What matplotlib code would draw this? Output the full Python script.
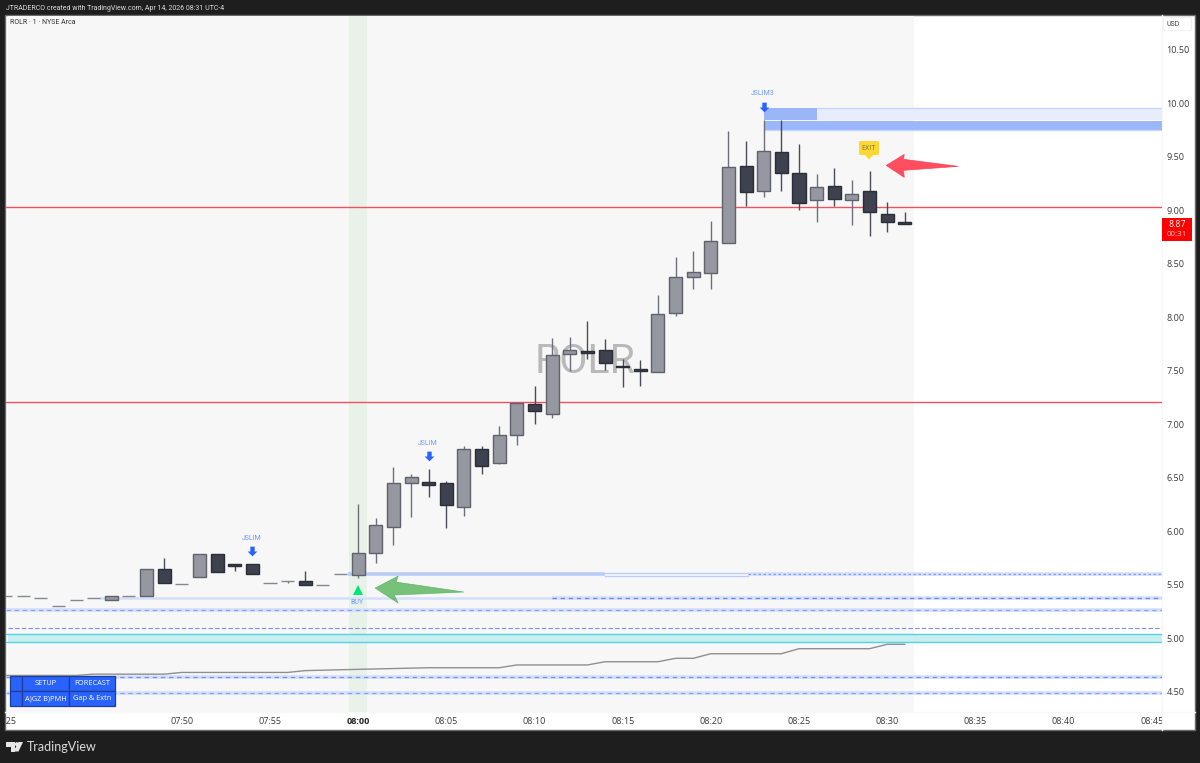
#!/usr/bin/env python3

import matplotlib
matplotlib.use('Agg')
import matplotlib.pyplot as plt
from matplotlib import patches
from matplotlib.path import Path
from matplotlib.transforms import Bbox

plt.rcParams['font.family'] = ['Open Sans', 'DejaVu Sans']
SMALL = ['Roboto', 'DejaVu Sans']

# bar position in minutes away from 08:00 (premarket has gaps so 07:25 sits at the far left)
minutes = list(range(-20, 32))
opens = [5.396, 5.396, 5.371, 5.299, 5.352, 5.371, 5.358, 5.396, 5.396, 5.648, 5.505, 5.567, 5.782,
         5.691, 5.691, 5.517, 5.536, 5.530, 5.498, 5.601, 5.589, 5.791, 6.041, 6.449, 6.458, 6.449,
         6.224, 6.766, 6.639, 6.900, 7.187, 7.097, 7.660, 7.682, 7.698, 7.548, 7.517, 7.489, 8.040,
         8.377, 8.417, 8.698, 9.417, 9.181, 9.548, 9.349, 9.097, 9.231, 9.100, 9.178, 8.966, 8.888]
highs = [5.396, 5.396, 5.371, 5.299, 5.352, 5.371, 5.396, 5.396, 5.648, 5.751, 5.505, 5.782, 5.782,
         5.691, 5.691, 5.517, 5.536, 5.629, 5.498, 5.601, 6.249, 6.118, 6.595, 6.530, 6.583, 6.470,
         6.798, 6.798, 6.987, 7.200, 7.355, 7.810, 7.816, 7.969, 7.797, 7.610, 7.601, 8.206, 8.567,
         8.617, 8.900, 9.741, 9.651, 9.847, 9.847, 9.623, 9.343, 9.399, 9.280, 9.368, 9.078, 8.988]
lows = [5.396, 5.396, 5.371, 5.299, 5.352, 5.371, 5.358, 5.396, 5.396, 5.511, 5.505, 5.567, 5.617,
        5.623, 5.598, 5.517, 5.517, 5.495, 5.498, 5.601, 5.564, 5.704, 5.869, 6.134, 6.321, 6.031,
        6.143, 6.533, 6.623, 6.801, 7.006, 7.053, 7.498, 7.611, 7.511, 7.343, 7.355, 7.489, 8.009,
        8.268, 8.262, 8.698, 9.041, 9.122, 9.184, 9.000, 8.891, 9.041, 8.863, 8.763, 8.801, 8.869]
closes = [5.396, 5.396, 5.371, 5.299, 5.352, 5.371, 5.396, 5.396, 5.648, 5.511, 5.505, 5.782, 5.617,
          5.670, 5.598, 5.517, 5.536, 5.495, 5.498, 5.601, 5.797, 6.059, 6.449, 6.502, 6.427, 6.246,
          6.766, 6.611, 6.897, 7.199, 7.125, 7.648, 7.698, 7.670, 7.570, 7.530, 7.495, 8.028, 8.380,
          8.421, 8.717, 9.405, 9.171, 9.558, 9.349, 9.072, 9.218, 9.106, 9.156, 8.985, 8.888, 8.869]

# grey step line near the bottom
step_minutes = [-20, -16, -15, -11, -10, -4, -3, 0, 4, 8, 9, 13, 14, 17, 18, 19, 20, 24, 25, 29, 30, 31]
step_values = [4.650, 4.650, 4.662, 4.662, 4.678, 4.678, 4.695, 4.707, 4.722, 4.722, 4.748, 4.748,
               4.778, 4.778, 4.810, 4.810, 4.853, 4.853, 4.900, 4.900, 4.941, 4.941]

price_ticks = [4.5, 5.0, 5.5, 6.0, 6.5, 7.0, 7.5, 8.0, 8.5, 9.0, 9.5, 10.0, 10.5]
time_ticks = [-20, -10, -5, 0, 5, 10, 15, 20, 25, 30, 35, 40, 45]
time_labels = ['07:25', '07:50', '07:55', '08:00', '08:05', '08:10', '08:15', '08:20', '08:25',
               '08:30', '08:35', '08:40', '08:45']

red_levels = [9.028, 7.206]
dotted_levels = [5.371, 5.259, 4.636, 4.486]
dotted_starts = [11.0, -20.0, -20.0, -20.0]
cyan_zone = [4.966, 5.037]
thin_level = 5.096
upper_level = 5.595

green_arrow_m = [0.96, 2.27, 2.15, 6.0, 2.04, 2.27]
green_arrow_p = [5.467, 5.579, 5.523, 5.43, 5.402, 5.327]
red_arrow_m = [29.95, 30.97, 30.92, 34.03, 30.92, 30.97]
red_arrow_p = [9.42, 9.523, 9.477, 9.411, 9.374, 9.308]

signal_names = ['JSLIM', 'JSLIM', 'JSLIM3']
signal_m = [-6.0, 4.0, 23.0]
signal_p = [5.81, 6.70, 9.97]

W, H = 1200, 763
UP_FACE, UP_EDGE, UP_WICK = '#9598a1', '#5f626b', '#6d7078'
DOWN_FACE, DOWN_EDGE, DOWN_WICK = '#3e414e', '#2a2e39', '#4a4c55'
BLUE = '#2962ff'

fig = plt.figure(figsize=(W / 100, H / 100), dpi=100, facecolor='#1e1e1e')

# pixel axes behind everything, just the white panel
back = fig.add_axes([0, 0, 1, 1], zorder=0)
back.set_xlim(0, W); back.set_ylim(H, 0); back.axis('off')
back.add_patch(patches.Rectangle((5, 15), 1190, 715, fc='white', ec='#6a6a6a', lw=1))
back.plot([1162, 1162], [15, 730], color='#f7f7f7', lw=1)
back.plot([5, 1195], [712, 712], color='#f7f7f7', lw=1)

ax = fig.add_axes([5.5 / W, 1 - 712 / H, (1161.5 - 5.5) / W, (712 - 15.5) / H], zorder=1)
ax.patch.set_alpha(0)
xmin, xmax = (5.5 - 356.5) / 17.67, (1161.5 - 356.5) / 17.67
ax.set_xlim(xmin, xmax)
ax.set_ylim(4.308, 10.822)
for s in ax.spines.values():
    s.set_visible(False)

# session shading and the 08:00 highlight
ax.axvspan(xmin, 31.5, color='#f7f7f7', lw=0, zorder=0)
ax.axvspan(-0.5, 0.5, color='#e8f2e9', lw=0, zorder=0.5)

ax.text(12.85, 7.59, 'ROLR', fontsize=29.5, color='#b9b9b9', ha='center', va='center', zorder=0.8,
        family=SMALL)

for lvl in red_levels:
    ax.axhline(lvl, color='#f0505f', lw=1.0, zorder=1)

# blue supply zones
ax.fill_between([23, 26], 9.841, 9.953, color='#9ab5f8', lw=0, zorder=1)
ax.fill_between([26, xmax], 9.841, 9.953, color='#e7edfc', lw=0, zorder=1)
ax.plot([26, xmax], [9.953, 9.953], color='#c5d4fa', lw=0.9, zorder=1)
ax.fill_between([23, xmax], 9.748, 9.836, color='#9bb7fb', lw=0, zorder=1)
ax.plot([23, xmax], [9.748, 9.748], color='#c5d4fa', lw=0.9, zorder=1)

# cyan zone
ax.fill_between([xmin, xmax], cyan_zone[0], cyan_zone[1], color='#c9eef0', lw=0, zorder=1)
for lvl in cyan_zone:
    ax.axhline(lvl, color='#55d3e2', lw=1.0, zorder=1.1)

# level lines, a pale band with dashes on top
dash_colors = ['#5f86f2', '#86a3f5', '#6f90f3', '#86a3f5']
for lvl, start, col in zip(dotted_levels, dotted_starts, dash_colors):
    ax.plot([start, xmax], [lvl, lvl], color='#d3dffb', lw=2.6, zorder=1, solid_capstyle='butt')
    ax.plot([start, xmax], [lvl, lvl], color=col, lw=0.9, ls=(0, (3.5, 3)), zorder=1.1)
ax.plot([-14.7, 11], [5.371, 5.371], color='#d3dffb', lw=1.8, zorder=1, solid_capstyle='butt')
ax.plot([xmin, xmax], [thin_level, thin_level], color='#7a90e8', lw=0.8, ls=(0, (4, 2)), zorder=1)

ax.plot([-0.6, 14], [upper_level, upper_level], color='#b9cdf9', lw=2.6, zorder=1, solid_capstyle='butt')
ax.plot([14, 22.1], [upper_level + 0.012] * 2, color='#b9cdf9', lw=0.9, zorder=1)
ax.plot([14, 22.1], [upper_level - 0.012] * 2, color='#b9cdf9', lw=0.9, zorder=1)
ax.plot([22.1, xmax], [upper_level, upper_level], color='#d3dffb', lw=2.6, zorder=1, solid_capstyle='butt')
ax.plot([22.1, xmax], [upper_level, upper_level], color='#7f9ff5', lw=0.9, ls=(0, (2, 2)), zorder=1.1)

ax.plot(step_minutes, step_values, color='#8f8f8f', lw=1.0, zorder=1.2)

# candles
for m, o, h, l, c in zip(minutes, opens, highs, lows, closes):
    up = c >= o
    face, edge, wick = (UP_FACE, UP_EDGE, UP_WICK) if up else (DOWN_FACE, DOWN_EDGE, DOWN_WICK)
    if o == c:
        edge = '#85878e'
    ax.vlines(m, l, h, color=wick, lw=1.0, zorder=2)
    ax.bar(m, abs(c - o), bottom=min(o, c), width=0.74, color=face, edgecolor=edge, lw=1.0, zorder=3)

# hand drawn arrows
ax.fill(green_arrow_m, green_arrow_p, fc='#4caf50', ec='#4caf50', alpha=0.75, lw=0.5, zorder=4)
ax.fill(red_arrow_m, red_arrow_p, fc='#ff3b4e', ec='#ff3b4e', alpha=0.9, lw=0.5, zorder=4)

# signal markers
down_arrow = Path([(-0.45, 1), (0.45, 1), (0.45, 0), (1, 0), (0, -1), (-1, 0), (-0.45, 0), (-0.45, 1)],
                  closed=True)
for name, m, p in zip(signal_names, signal_m, signal_p):
    ax.plot([m], [p], marker=down_arrow, ms=7, color=BLUE, mew=0, zorder=5)
    ax.text(m - 0.05, p + 0.118, name, fontsize=5, color='#6f97f7', ha='center', va='center', zorder=5,
            family=SMALL)

ax.plot([0], [5.453], marker='^', ms=7, color='#00e676', mew=0, zorder=5)
ax.text(-0.05, 5.335, 'BUY', fontsize=5, color='#6f97f7', ha='center', va='center', zorder=5, family=SMALL)

# axes ticks and labels
ax.yaxis.tick_right()
ax.set_yticks(price_ticks)
ax.set_yticklabels(['{:.2f}'.format(p) for p in price_ticks])
ax.set_xticks(time_ticks)
ax.set_xticklabels(time_labels)
ax.tick_params(axis='both', length=0, labelsize=6.5, labelcolor='#3a3a3a')
ax.tick_params(axis='y', pad=3.5)
ax.tick_params(axis='x', pad=3.5)

clip = Bbox([[5.5, 0], [1161.5, H]])
for lab in ax.get_xticklabels():
    lab.set_clip_box(clip)
    lab.set_clip_on(True)
    if lab.get_text() == '08:00':
        lab.set_fontweight('bold')
        lab.set_color('#222222')

# overlay in pixels: price tag, table, header, footer
top = fig.add_axes([0, 0, 1, 1], zorder=2)
top.set_xlim(0, W); top.set_ylim(H, 0); top.axis('off')
top.patch.set_alpha(0)

top.add_patch(patches.FancyBboxPatch((1163.5, 17.5), 28, 13, boxstyle='round,pad=0,rounding_size=1.5',
                                     fc='white', ec='#f0f0f0', lw=0.8))
top.text(1173.5, 24, 'USD', fontsize=5, color='#444444', ha='center', va='center', family=SMALL)

top.add_patch(patches.Rectangle((1162, 218), 30, 22.5, fc='#ff0000', ec='none'))
top.text(1177, 224.5, '8.87', fontsize=6.3, color='white', ha='center', va='center')
top.text(1177, 234.5, '00:31', fontsize=5.8, color='#ffc4c4', ha='center', va='center')

# EXIT tag
top.add_patch(patches.FancyBboxPatch((859, 141), 20, 14, boxstyle='round,pad=0,rounding_size=1.5',
                                     fc='#fdd835', ec='none'))
top.fill([865, 873, 869], [155, 155, 159.5], color='#fdd835', lw=0)
top.text(869, 148, 'EXIT', fontsize=5, color='#8d7f2a', ha='center', va='center', family=SMALL)

col_x = [10, 22.3, 69.3, 115]
row_y = [676, 691, 706]
table_cells = [['', 'SETUP', 'FORECAST'], ['', 'A)GZ B)PMH', 'Gap & Extn']]
for r, row in enumerate(table_cells):
    for c, label in enumerate(row):
        top.add_patch(patches.Rectangle((col_x[c], row_y[r]), col_x[c + 1] - col_x[c], row_y[r + 1] - row_y[r],
                                        fc=BLUE, ec='#1f3f94', lw=0.9))
        top.text((col_x[c] + col_x[c + 1]) / 2, (row_y[r] + row_y[r + 1]) / 2, label, fontsize=5.3,
                 color='white', ha='center', va='center')

top.text(5.5, 8, 'JTRADERCO created with TradingView.com, Apr 14, 2026 08:31 UTC-4', fontsize=5,
         color='#dddddd', ha='left', va='center', family=SMALL)
top.text(10, 22.5, 'ROLR · 1 · NYSE Arca', fontsize=5, color='#333333', ha='left', va='center', family=SMALL)

# TV logo
top.fill([6, 15, 15, 10.5, 10.5, 6], [742, 742, 751.5, 751.5, 746.5, 746.5], color='#e6e6e6', lw=0)
top.add_patch(patches.Circle((16.8, 744.2), 2.0, color='#e6e6e6', lw=0))
top.fill([18.5, 23, 18.5, 13.5], [742, 742, 751.5, 751.5], color='#e6e6e6', lw=0)
top.text(26.8, 747, 'TradingView', fontsize=9, color='#dcdcdc', ha='left', va='center',
         family=['Lato', 'DejaVu Sans'])

fig.savefig('out.png', dpi=100, facecolor=fig.get_facecolor())
